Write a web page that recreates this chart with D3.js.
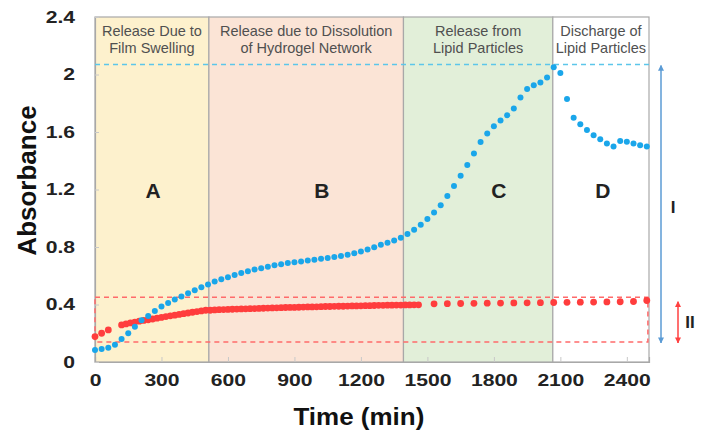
<!DOCTYPE html>
<html>
<head>
<meta charset="utf-8">
<script src="https://cdn.jsdelivr.net/npm/d3@7"></script>
<style>
  body { margin: 0; background: #fff; }
  svg { font-family: "Liberation Sans", Arial, sans-serif; }
</style>
</head>
<body>
<div id="chart"></div>
<script>
// blue series, one reading every 30 min
const blueTimes = d3.range(0, 2491, 30);
const blueValues = [
  0.084, 0.09, 0.10, 0.12, 0.16, 0.20, 0.245, 0.29, 0.32, 0.355,
  0.386, 0.41, 0.435, 0.456, 0.478, 0.50, 0.52, 0.54, 0.56, 0.575,
  0.59, 0.605, 0.62, 0.632, 0.643, 0.653, 0.663, 0.673, 0.68, 0.688,
  0.694, 0.70, 0.706, 0.712, 0.718, 0.724, 0.73, 0.738, 0.746, 0.756,
  0.768, 0.782, 0.798, 0.815, 0.83, 0.845, 0.865, 0.89, 0.92, 0.955,
  0.995, 1.04, 1.09, 1.155, 1.225, 1.295, 1.37, 1.45, 1.53, 1.59,
  1.64, 1.68, 1.717, 1.763, 1.84, 1.90, 1.926, 1.944, 1.98, 2.05,
  2.01, 1.83, 1.70, 1.654, 1.614, 1.577, 1.55, 1.52, 1.50, 1.537,
  1.533, 1.52, 1.507, 1.50
];

// red series: early points, dense stretch, then hourly
const redTimes = [0, 30, 60]
  .concat(d3.range(120, 1461, 20))
  .concat(d3.range(1530, 2491, 60));
const redValues = [
  0.177, 0.20, 0.223,
  0.258, 0.265, 0.272, 0.278, 0.284, 0.289, 0.294, 0.299, 0.305, 0.31,
  0.316, 0.321, 0.326, 0.331, 0.336, 0.341, 0.346, 0.351, 0.355, 0.36,
  0.36, 0.362, 0.364, 0.365, 0.366, 0.367, 0.368, 0.369, 0.370, 0.371,
  0.372, 0.373, 0.374, 0.375, 0.376, 0.377, 0.378, 0.379, 0.380, 0.380,
  0.381, 0.382, 0.383, 0.383, 0.384, 0.385, 0.386, 0.386, 0.387, 0.388,
  0.388, 0.389, 0.390, 0.390, 0.391, 0.392, 0.392, 0.393, 0.394, 0.394,
  0.395, 0.395, 0.396, 0.396, 0.397, 0.397, 0.398, 0.398,
  0.405, 0.406, 0.407, 0.408, 0.409, 0.41, 0.411, 0.412, 0.413, 0.414,
  0.415, 0.416, 0.417, 0.418, 0.419, 0.421, 0.428
];

const phaseStarts = [0, 514, 1392, 2066];
const phaseEnds = [514, 1392, 2066, 2500];
const phaseLetters = ["A", "B", "C", "D"];
const phaseLetterAt = [262, 1024, 1822, 2292];
const phaseTitles = [
  ["Release Due to", "Film Swelling"],
  ["Release due to Dissolution", "of Hydrogel Network"],
  ["Release from", "Lipid Particles"],
  ["Discharge of", "Lipid Particles"]
];
const phaseColors = ["#fdf1cd", "#fbe4d6", "#e2efd9", "#ffffff"];

const xTicks = [0, 300, 600, 900, 1200, 1500, 1800, 2100, 2400];
const yTicks = [0, 0.4, 0.8, 1.2, 1.6, 2, 2.4];

const blueMax = 2.07;      // dashed blue level
const redBand = [0.14, 0.45]; // dashed red box

const margin = { top: 17, right: 53, bottom: 77, left: 95 },
      width = 702 - margin.left - margin.right,
      height = 439 - margin.top - margin.bottom;

const stretch = 1.28; // the source picture is a bit wide in its text

const svg = d3.select("#chart")
    .append("svg")
    .attr("width", 702)
    .attr("height", 439)
    .append("g")
    .attr("transform", `translate(${margin.left},${margin.top})`);

const x = d3.scaleLinear().domain([0, 2500]).range([0, width]);
const y = d3.scaleLinear().domain([0, 2.4]).range([height, 0]);

// phase backgrounds
svg.selectAll("rect.phase")
    .data(phaseStarts)
    .enter()
    .append("rect")
    .attr("x", d => x(d))
    .attr("y", 0)
    .attr("width", (d, i) => x(phaseEnds[i]) - x(d))
    .attr("height", height)
    .attr("fill", (d, i) => phaseColors[i])
    .attr("stroke", "#a8a8a8")
    .attr("stroke-width", 1.2);

// titles of phases
phaseTitles.forEach((lines, i) => {
    const cx = (x(phaseStarts[i]) + x(phaseEnds[i])) / 2;
    const t = svg.append("text")
        .attr("x", cx)
        .attr("y", 19)
        .attr("text-anchor", "middle")
        .style("font-size", "14.5px")
        .attr("fill", "#505050");
    lines.forEach((l, j) => {
        t.append("tspan").attr("x", cx).attr("dy", j ? 17 : 0).text(l);
    });
    svg.append("text")
        .attr("x", x(phaseLetterAt[i]))
        .attr("y", 181)
        .attr("text-anchor", "middle")
        .style("font-size", "21px")
        .style("font-weight", "bold")
        .attr("fill", "#222")
        .text(phaseLetters[i]);
});

// axes
const xAxis = svg.append("g")
    .attr("transform", `translate(0,${height})`)
    .call(d3.axisBottom(x).tickValues(xTicks).tickSize(-5).tickPadding(12).tickFormat(d3.format("d")));
const yAxis = svg.append("g")
    .call(d3.axisLeft(y).tickValues(yTicks).tickSize(-4).tickPadding(20).tickFormat(d => d3.format("")(d)));
[xAxis, yAxis].forEach(a => {
    a.select(".domain").attr("stroke", "#a8a8a8").attr("stroke-width", 1.2);
    a.selectAll(".tick line").attr("stroke", "#c8c8c8");
    a.selectAll(".tick text")
        .style("font-size", "16.5px")
        .style("font-weight", "bold")
        .style("font-family", "'Liberation Sans', Arial, sans-serif")
        .attr("fill", "#222")
        .attr("transform", `scale(${stretch},1)`);
});
yAxis.selectAll(".tick text").attr("x", -20 / stretch);

// reference lines
svg.append("line")
    .attr("x1", 0).attr("x2", width)
    .attr("y1", y(blueMax)).attr("y2", y(blueMax))
    .attr("stroke", "#5cc6ea")
    .attr("stroke-width", 1.5)
    .attr("stroke-dasharray", "5,4");

svg.append("rect")
    .attr("x", 0)
    .attr("y", y(redBand[1]))
    .attr("width", x(2495))
    .attr("height", y(redBand[0]) - y(redBand[1]))
    .attr("fill", "none")
    .attr("stroke", "#ff6b6b")
    .attr("stroke-width", 1.5)
    .attr("stroke-dasharray", "5,4");

// data points
const blue = blueTimes.map((t, i) => ({ t, v: blueValues[i] }));
const red = redTimes.map((t, i) => ({ t, v: redValues[i] }));

svg.selectAll("circle.red")
    .data(red)
    .enter()
    .append("circle")
    .attr("cx", d => x(d.t))
    .attr("cy", d => y(d.v))
    .attr("r", 3.4)
    .attr("fill", "#ff3d3d");

svg.selectAll("circle.blue")
    .data(blue)
    .enter()
    .append("circle")
    .attr("cx", d => x(d.t))
    .attr("cy", d => y(d.v))
    .attr("r", 3)
    .attr("fill", "#1aa6ea");

// double arrows I and II
const defs = svg.append("defs");
[["blueHead", "#5b9bd5"], ["redHead", "#ff4040"]].forEach(([id, c]) => {
    defs.append("marker")
        .attr("id", id)
        .attr("viewBox", "0 0 10 10")
        .attr("refX", 9).attr("refY", 5)
        .attr("markerWidth", 4).attr("markerHeight", 4)
        .attr("orient", "auto-start-reverse")
        .append("path")
        .attr("d", "M0,0L10,5L0,10z")
        .attr("fill", c);
});

svg.append("line")
    .attr("x1", width + 12).attr("x2", width + 12)
    .attr("y1", y(blueMax) + 1).attr("y2", y(redBand[0]) + 1)
    .attr("stroke", "#5b9bd5").attr("stroke-width", 1.5)
    .attr("marker-start", "url(#blueHead)")
    .attr("marker-end", "url(#blueHead)");
svg.append("text")
    .attr("x", width + 24).attr("y", 196)
    .attr("text-anchor", "middle")
    .style("font-size", "17px").style("font-weight", "bold")
    .attr("fill", "#222")
    .text("I");

svg.append("line")
    .attr("x1", width + 29).attr("x2", width + 29)
    .attr("y1", y(0.42)).attr("y2", y(redBand[0]) + 1)
    .attr("stroke", "#ff4040").attr("stroke-width", 1.5)
    .attr("marker-start", "url(#redHead)")
    .attr("marker-end", "url(#redHead)");
svg.append("text")
    .attr("x", width + 41).attr("y", 311)
    .attr("text-anchor", "middle")
    .style("font-size", "17px").style("font-weight", "bold")
    .attr("fill", "#222")
    .text("II");

// axis titles
svg.append("text")
    .attr("transform", `translate(${x(1200) - 2},${height + 63}) scale(1.13,1)`)
    .attr("text-anchor", "middle")
    .style("font-size", "23px")
    .style("font-weight", "bold")
    .attr("fill", "#111")
    .text("Time (min)");

svg.append("text")
    .attr("transform", `translate(${-59},${height / 2 - 9}) rotate(-90)`)
    .attr("text-anchor", "middle")
    .style("font-size", "26px")
    .style("font-weight", "bold")
    .attr("fill", "#111")
    .text("Absorbance");
</script>
</body>
</html>
